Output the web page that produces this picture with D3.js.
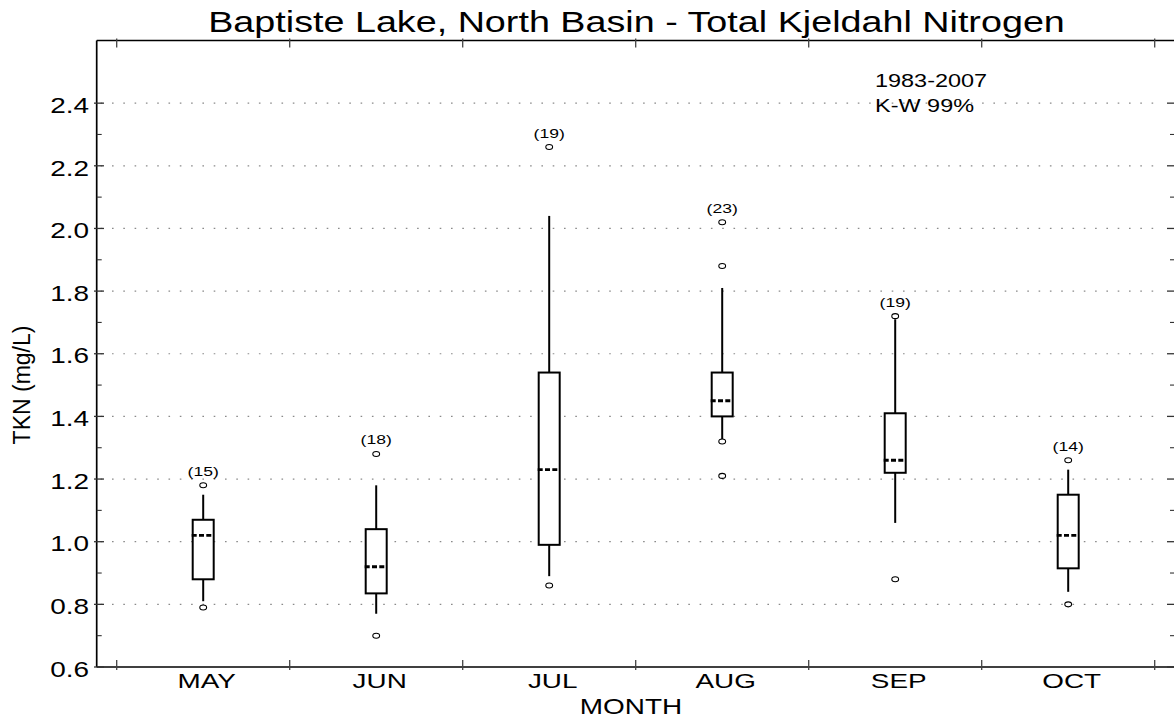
<!DOCTYPE html>
<html>
<head>
<meta charset="utf-8">
<script src="https://cdn.jsdelivr.net/npm/d3@7"></script>
<style>
  html, body { margin: 0; padding: 0; background: #fff; }
  svg { display: block; }
  text { font-family: "Liberation Sans", Arial, Helvetica, sans-serif; fill: #000; }
</style>
</head>
<body>
<svg id="chart" width="1174" height="719"></svg>
<script>
// Monthly TKN summary, 1983-2007
const months = ["MAY", "JUN", "JUL", "AUG", "SEP", "OCT"];
const counts = [15, 18, 19, 23, 19, 14];
const whiskerLow  = [0.81, 0.77, 0.89, 1.32, 1.06, 0.84];
const q1          = [0.88, 0.835, 0.99, 1.40, 1.22, 0.915];
const medians     = [1.02, 0.92, 1.23, 1.45, 1.26, 1.02];
const q3          = [1.07, 1.04, 1.54, 1.54, 1.41, 1.15];
const whiskerHigh = [1.15, 1.18, 2.04, 1.81, 1.71, 1.23];
const outliers = [
  [0.79, 1.18],
  [0.70, 1.28],
  [0.86, 2.26],
  [1.21, 1.32, 1.88, 2.02],
  [0.88, 1.72],
  [0.80, 1.26]
];
const yMajorTicks = [0.6, 0.8, 1.0, 1.2, 1.4, 1.6, 1.8, 2.0, 2.2, 2.4];
const yMinorTicks = [0.7, 0.9, 1.1, 1.3, 1.5, 1.7, 1.9, 2.1, 2.3];
const yDomain = [0.6, 2.6];
const titleText = "Baptiste Lake, North Basin - Total Kjeldahl Nitrogen";
const xTitle = "MONTH";
const yTitle = "TKN (mg/L)";
const noteLines = ["1983-2007", "K-W 99%"];

const svg = d3.select("#chart");

const frame = { left: 96.7, right: 1176, top: 40.5, bottom: 667 };

const x = d3.scaleBand()
  .domain(months)
  .range([116.7, 1154.7])
  .paddingInner(0)
  .paddingOuter(0);

const y = d3.scaleLinear()
  .domain(yDomain)
  .range([frame.bottom, frame.top]);

const cx = m => x(m) + x.bandwidth() / 2;

// text drawn with a horizontal stretch, like the plotting package's font
function stext(parent, px, py, str, size, anchor, sx) {
  return parent.append("text")
    .attr("transform", `translate(${px},${py}) scale(${sx},1)`)
    .attr("text-anchor", anchor)
    .style("font-size", size + "px")
    .text(str);
}

// dotted grid at major ticks
svg.append("g")
  .selectAll("line")
  .data(yMajorTicks.filter(v => v > yDomain[0]))
  .join("line")
  .attr("x1", frame.left + 4)
  .attr("x2", 1157)
  .attr("y1", d => y(d))
  .attr("y2", d => y(d))
  .attr("stroke", "#8a8a8a")
  .attr("stroke-width", 1.2)
  .attr("stroke-dasharray", "1.6,9.7");

// frame
const axisG = svg.append("g");
axisG.append("line")
  .attr("x1", frame.left).attr("x2", frame.left)
  .attr("y1", frame.top).attr("y2", frame.bottom)
  .attr("stroke", "#000").attr("stroke-width", 1.7);
axisG.append("line")
  .attr("x1", frame.left).attr("x2", frame.right)
  .attr("y1", frame.bottom).attr("y2", frame.bottom)
  .attr("stroke", "#000").attr("stroke-width", 1.7);
axisG.append("line")
  .attr("x1", frame.left).attr("x2", frame.right)
  .attr("y1", frame.top).attr("y2", frame.top)
  .attr("stroke", "#000").attr("stroke-width", 1.3);
axisG.append("line")
  .attr("x1", frame.right).attr("x2", frame.right)
  .attr("y1", frame.top).attr("y2", frame.bottom)
  .attr("stroke", "#000").attr("stroke-width", 1.7);

// y ticks, left and right
axisG.selectAll(".ymaj")
  .data(yMajorTicks)
  .join("line")
  .attr("x1", frame.left - 2.7).attr("x2", frame.left + 7.3)
  .attr("y1", d => y(d)).attr("y2", d => y(d))
  .attr("stroke", "#333").attr("stroke-width", 1.3);
axisG.selectAll(".ymin")
  .data(yMinorTicks)
  .join("line")
  .attr("x1", frame.left).attr("x2", frame.left + 5)
  .attr("y1", d => y(d)).attr("y2", d => y(d))
  .attr("stroke", "#333").attr("stroke-width", 1.1);
axisG.selectAll(".ymajr")
  .data(yMajorTicks)
  .join("line")
  .attr("x1", frame.right - 9).attr("x2", frame.right)
  .attr("y1", d => y(d)).attr("y2", d => y(d))
  .attr("stroke", "#333").attr("stroke-width", 1.3);
axisG.selectAll(".yminr")
  .data(yMinorTicks)
  .join("line")
  .attr("x1", frame.right - 6).attr("x2", frame.right)
  .attr("y1", d => y(d)).attr("y2", d => y(d))
  .attr("stroke", "#333").attr("stroke-width", 1.1);

// x ticks at category boundaries, bottom and top
const bounds = months.map(m => x(m)).concat([x.range()[1]]);
axisG.selectAll(".xb")
  .data(bounds)
  .join("line")
  .attr("x1", d => d).attr("x2", d => d)
  .attr("y1", frame.bottom - 7).attr("y2", frame.bottom + 3)
  .attr("stroke", "#444").attr("stroke-width", 1.3);
axisG.selectAll(".xt")
  .data(bounds)
  .join("line")
  .attr("x1", d => d).attr("x2", d => d)
  .attr("y1", frame.top - 2).attr("y2", frame.top + 7)
  .attr("stroke", "#444").attr("stroke-width", 1.3);

// y tick labels
yMajorTicks.forEach(v => {
  stext(svg, 89, y(v) + 9.7, d3.format(".1f")(v), 22, "end", 1.27);
});

// x category labels
months.forEach(m => {
  stext(svg, cx(m) + 3.5, 688, m, 20.5, "middle", 1.36);
});

// axis titles
stext(svg, 631, 714, xTitle, 22, "middle", 1.27);
svg.append("text")
  .attr("transform", `translate(29.5,385) rotate(-90)`)
  .attr("text-anchor", "middle")
  .style("font-size", "23px")
  .text(yTitle);

// chart title
stext(svg, 636.5, 32.3, titleText, 28.8, "middle", 1.31);

// note
stext(svg, 875, 87.3, noteLines[0], 17.5, "start", 1.34);
stext(svg, 875, 111.7, noteLines[1], 17.5, "start", 1.34);

// box plots
const boxW = 21;
const boxes = svg.append("g");
months.forEach((m, i) => {
  const c = cx(m);
  const g = boxes.append("g");
  // whiskers
  g.append("line")
    .attr("x1", c).attr("x2", c)
    .attr("y1", y(q3[i])).attr("y2", y(whiskerHigh[i]))
    .attr("stroke", "#000").attr("stroke-width", 2);
  g.append("line")
    .attr("x1", c).attr("x2", c)
    .attr("y1", y(q1[i])).attr("y2", y(whiskerLow[i]))
    .attr("stroke", "#000").attr("stroke-width", 2);
  // box
  g.append("rect")
    .attr("x", c - boxW / 2)
    .attr("y", y(q3[i]))
    .attr("width", boxW)
    .attr("height", y(q1[i]) - y(q3[i]))
    .attr("fill", "#fff")
    .attr("stroke", "#000")
    .attr("stroke-width", 2);
  // median
  g.append("line")
    .attr("x1", c - boxW / 2 - 1).attr("x2", c + boxW / 2 - 1)
    .attr("y1", y(medians[i])).attr("y2", y(medians[i]))
    .attr("stroke", "#000").attr("stroke-width", 2.8)
    .attr("stroke-dasharray", "5,2.3");
  // outliers
  g.selectAll("ellipse")
    .data(outliers[i])
    .join("ellipse")
    .attr("cx", c)
    .attr("cy", d => y(d))
    .attr("rx", 3.4)
    .attr("ry", 2.5)
    .attr("fill", "#fff")
    .attr("stroke", "#000")
    .attr("stroke-width", 1.1);
  // sample count above top point
  const top = Math.max(whiskerHigh[i], d3.max(outliers[i]));
  stext(g, c, y(top) - 9.5, `(${counts[i]})`, 13.5, "middle", 1.3);
});
</script>
</body>
</html>
